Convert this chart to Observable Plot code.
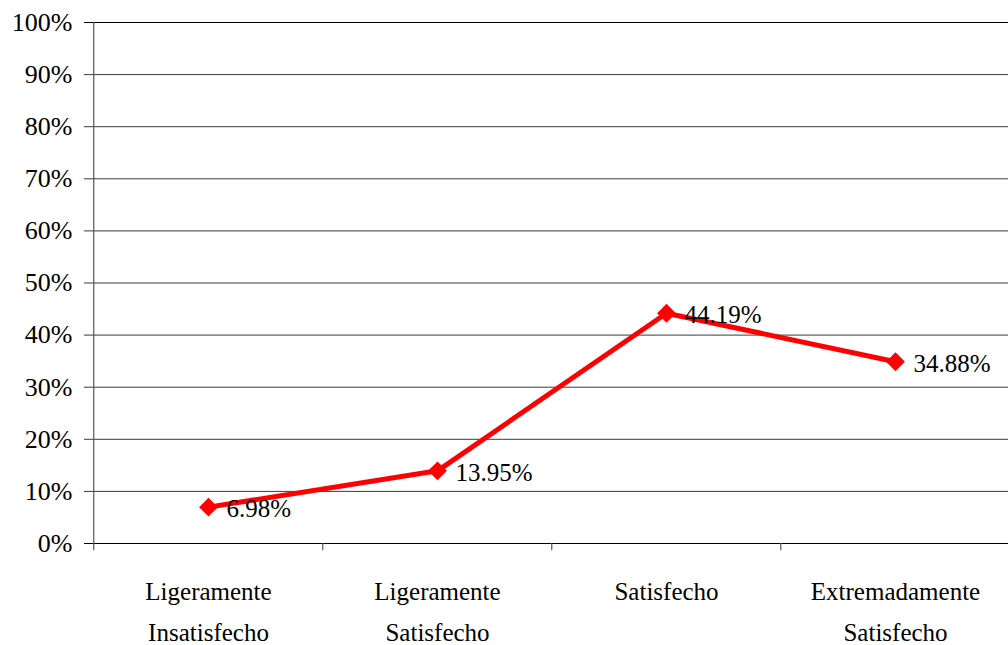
<!DOCTYPE html>
<html>
<head>
<meta charset="utf-8">
<script src="https://cdn.jsdelivr.net/npm/d3@7"></script>
<script src="https://cdn.jsdelivr.net/npm/@observablehq/plot@0.6"></script>
<style>
  html, body { margin: 0; padding: 0; background: #fff; }
  #chart svg { display: block; }
  #chart svg, #chart svg text { font-family: "Liberation Serif", "DejaVu Serif", serif !important; }
</style>
</head>
<body>
<div id="chart"></div>
<script>
const categories = [
  "Ligeramente\nInsatisfecho",
  "Ligeramente\nSatisfecho",
  "Satisfecho",
  "Extremadamente\nSatisfecho"
];
const values = [6.98, 13.95, 44.19, 34.88];
const yTicks = [0, 10, 20, 30, 40, 50, 60, 70, 80, 90, 100];
const yTickLabels = ["0%", "10%", "20%", "30%", "40%", "50%", "60%", "70%", "80%", "90%", "100%"];

const data = categories.map((c, i) => ({cat: c, value: values[i]}));
const yLabelData = yTicks.map((t, i) => ({t, label: yTickLabels[i]}));

const xRange = [92, 1010];
const step = (xRange[1] - xRange[0]) / categories.length;
const font = "Liberation Serif";

const chart = Plot.plot({
  width: 1008,
  height: 645,
  marginTop: 22,
  marginBottom: 102,
  marginLeft: 92,
  marginRight: 0,
  style: {fontFamily: font, fontSize: "26px", background: "#fff", color: "#000", overflow: "visible"},
  x: {type: "point", domain: categories, range: xRange, padding: 0.5, axis: null},
  y: {domain: [0, 100], range: [543, 22], axis: null},
  marks: [
    Plot.ruleY(yTicks, {y: d => d, stroke: "#3a3a3a", strokeWidth: 1, insetLeft: -8}),
    Plot.ruleY([0], {stroke: "#000", strokeWidth: 1.2, insetLeft: -8}),
    Plot.ruleY([100], {stroke: "#000", strokeWidth: 1.2, insetLeft: -8}),
    Plot.ruleX([categories[0]], {x: d => d, dx: -step / 2, y1: -1.4, y2: 100, stroke: "#555", strokeWidth: 1.2}),
    Plot.ruleX(categories.slice(1), {x: d => d, dx: -step / 2, y1: -1.4, y2: 0, stroke: "#555", strokeWidth: 1.2}),
    Plot.text(yLabelData, {y: "t", text: "label", frameAnchor: "left", dx: -20, textAnchor: "end", fontSize: 26, fontFamily: font, fill: "#000"}),
    Plot.text(categories, {x: d => d, text: d => d, frameAnchor: "bottom", lineAnchor: "top", dy: 28, lineHeight: 1.62, fontSize: 25, fontFamily: font, fill: "#000"}),
    Plot.line(data, {x: "cat", y: "value", stroke: "#ff0000", strokeWidth: 5}),
    Plot.dot(data, {x: "cat", y: "value", symbol: "diamond2", r: 8.5, fill: "#ff0000", stroke: "none"}),
    Plot.text(data, {x: "cat", y: "value", text: d => d.value.toFixed(2) + "%", textAnchor: "start", dx: 18, dy: 2, fontSize: 25, fontFamily: font, fill: "#000"})
  ]
});
document.getElementById("chart").appendChild(chart);
</script>
</body>
</html>
